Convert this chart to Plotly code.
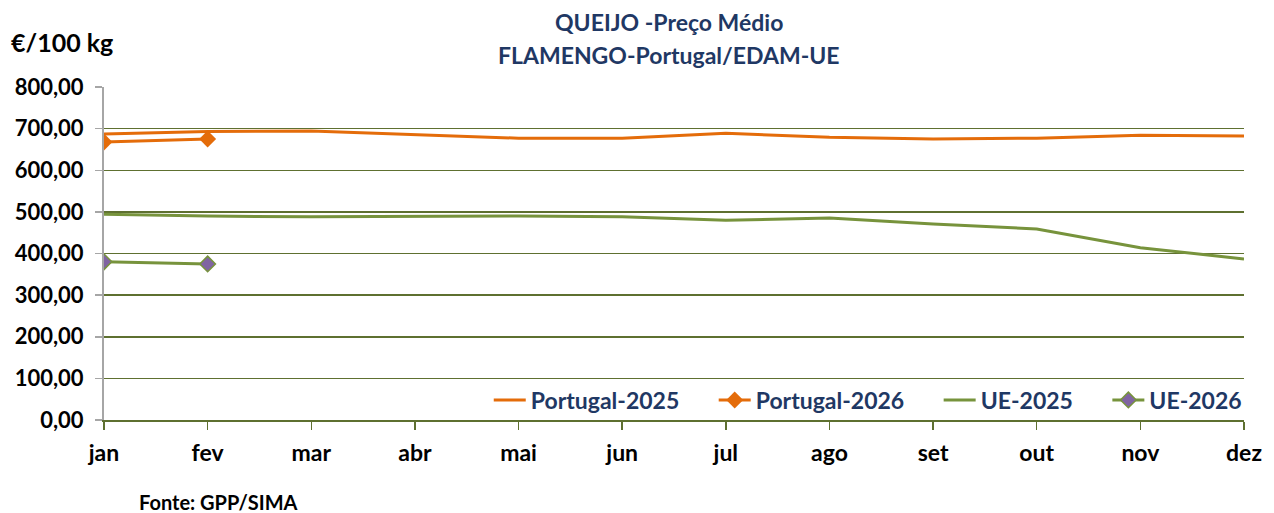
import plotly.graph_objects as go

months = ["jan", "fev", "mar", "abr", "mai", "jun", "jul", "ago", "set", "out", "nov", "dez"]
portugal_2025 = [687, 693, 694, 685, 677, 677, 689, 679, 675, 677, 684, 682]
portugal_2026 = [668, 675]
ue_2025 = [494, 490, 488, 489, 490, 488, 480, 485, 471, 459, 414, 387]
ue_2026 = [380, 375]
y_ticks = [0, 100, 200, 300, 400, 500, 600, 700, 800]
y_tick_labels = ["0,00", "100,00", "200,00", "300,00", "400,00", "500,00", "600,00", "700,00", "800,00"]
series_names = ["Portugal-2025", "Portugal-2026", "UE-2025", "UE-2026"]

ORANGE = "#E46C0A"
GREEN = "#77933C"
PURPLE = "#8064A2"
NAVY = "#1F3864"
GRID = "#5E7030"
FONT = "Lato"
PAD = "\u00a0" * 5


def legend_name(n, last=False):
    return "<b>%s</b>%s" % (n, "" if last else PAD)


fig = go.Figure()
fig.add_trace(go.Scatter(x=months, y=portugal_2025, name=legend_name(series_names[0]), mode="lines",
                         line=dict(color=ORANGE, width=3)))
fig.add_trace(go.Scatter(x=months[:2], y=portugal_2026, name=legend_name(series_names[1]), mode="lines+markers",
                         line=dict(color=ORANGE, width=3),
                         marker=dict(symbol="diamond", size=13, color=ORANGE)))
fig.add_trace(go.Scatter(x=months, y=ue_2025, name=legend_name(series_names[2]), mode="lines",
                         line=dict(color=GREEN, width=3)))
fig.add_trace(go.Scatter(x=months[:2], y=ue_2026, name=legend_name(series_names[3], True), mode="lines+markers",
                         line=dict(color=GREEN, width=3),
                         marker=dict(symbol="diamond", size=12, color=PURPLE,
                                     line=dict(color=GREEN, width=1.5))))

fig.update_layout(
    width=1274, height=513,
    margin=dict(l=104, r=30, t=87, b=93, autoexpand=False),
    paper_bgcolor="white", plot_bgcolor="white",
    font=dict(family=FONT, color="black"),
    showlegend=True,
    legend=dict(orientation="h", x=0.3375, xanchor="left", y=0.06, yanchor="middle",
                bgcolor="rgba(0,0,0,0)", font=dict(family=FONT, size=23, color=NAVY),
                tracegroupgap=0, itemwidth=32),
    xaxis=dict(type="category", categoryorder="array", categoryarray=months,
               range=[0, 11], showgrid=False, showline=True, linecolor=GRID, linewidth=1.5,
               ticks="outside", tickcolor=GRID, ticklen=8, tickwidth=1.5, automargin=False,
               tickvals=months, ticktext=["<b>%s</b>" % m for m in months], ticklabelstandoff=4,
               tickfont=dict(family=FONT, size=23, color="black"), zeroline=False),
    yaxis=dict(range=[0, 800], tickvals=y_ticks, ticktext=["<b>%s</b>" % t for t in y_tick_labels],
               showgrid=True, gridcolor=GRID, gridwidth=1.5, automargin=False,
               showline=True, linecolor="#A6A6A6", linewidth=2, ticklabelstandoff=7,
               ticks="outside", tickcolor="#A6A6A6", ticklen=7, tickwidth=1.5,
               tickfont=dict(family=FONT, size=22, color="black"), zeroline=False),
)

fig.add_annotation(text="<b>QUEIJO -Preço Médio</b>", xref="paper", yref="paper", x=0.496, y=1,
                   xanchor="center", yanchor="middle", yshift=65, showarrow=False,
                   font=dict(family=FONT, size=23, color=NAVY))
fig.add_annotation(text="<b>FLAMENGO-Portugal/EDAM-UE</b>", xref="paper", yref="paper", x=0.496, y=1,
                   xanchor="center", yanchor="middle", yshift=32, showarrow=False,
                   font=dict(family=FONT, size=23, color=NAVY))
fig.add_annotation(text="<b>€/100 kg</b>", xref="paper", yref="paper", x=-0.0832, y=1.0,
                   xanchor="left", yanchor="middle", yshift=45, showarrow=False,
                   font=dict(family=FONT, size=25, color="black"))
fig.add_annotation(text="<b>Fonte: GPP/SIMA</b>", xref="paper", yref="paper", x=0.029, y=0,
                   xanchor="left", yanchor="middle", yshift=-82, showarrow=False,
                   font=dict(family=FONT, size=20, color="black"))

fig.write_html("out.html",
               config={"displayModeBar": False, "staticPlot": True},
               post_script="document.body.style.margin='0px';document.body.style.overflow='hidden';")
